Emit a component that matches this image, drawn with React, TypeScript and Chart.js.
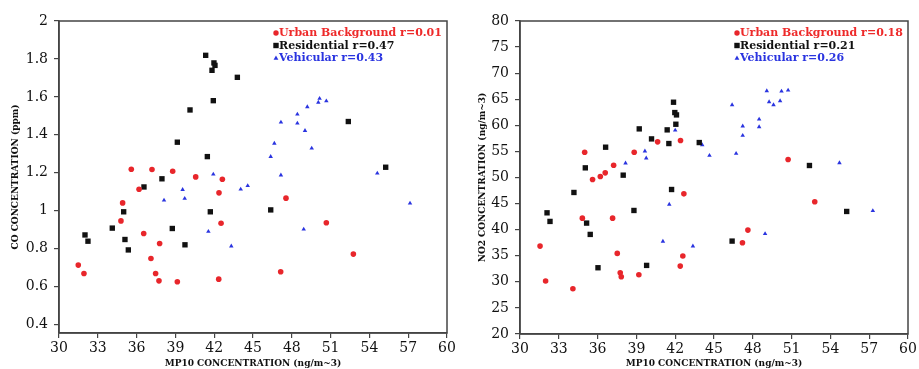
import React, { useEffect, useRef } from "react";
import { Chart, registerables } from "chart.js";

Chart.register(...registerables);

// ---------- tick labels ----------
const xTicks = [30, 33, 36, 39, 42, 45, 48, 51, 54, 57, 60];
const coTicks = [0.4, 0.6, 0.8, 1, 1.2, 1.4, 1.6, 1.8, 2];
const no2Ticks = [20, 25, 30, 35, 40, 45, 50, 55, 60, 65, 70, 75, 80];

// ---------- series names / legend ----------
const seriesNames = ["Urban Background", "Residential", "Vehicular"];
const coR = ["r=0.01", "r=0.47", "r=0.43"];
const no2R = ["r=0.18", "r=0.21", "r=0.26"];

const xTitle = "MP10 CONCENTRATION (ng/m~3)";
const coTitle = "CO CONCENTRATION (ppm)";
const no2Title = "NO2 CONCENTRATION (ng/m~3)";

// ---------- CO panel data ----------
const coUrbanX = [31.49, 31.93, 34.79, 34.92, 35.59, 36.19, 36.55, 37.19, 37.11, 37.47, 37.78, 37.73, 38.79, 39.15, 40.57, 42.37, 42.63, 42.53, 42.35, 47.55, 47.14, 50.67, 52.76];
const coUrbanY = [0.713, 0.669, 0.946, 1.041, 1.218, 1.113, 0.88, 1.217, 0.748, 0.669, 0.827, 0.63, 1.208, 0.625, 1.178, 1.094, 1.166, 0.934, 0.639, 1.066, 0.678, 0.936, 0.771];

const coResX = [32.01, 32.24, 34.12, 35.0, 35.1, 35.36, 36.57, 37.96, 38.76, 39.15, 39.74, 40.13, 41.34, 41.47, 41.7, 41.83, 41.93, 41.98, 42.06, 43.79, 46.37, 52.37, 55.26];
const coResY = [0.872, 0.839, 0.908, 0.994, 0.848, 0.793, 1.125, 1.168, 0.906, 1.361, 0.82, 1.531, 1.819, 1.285, 0.994, 1.74, 1.58, 1.779, 1.766, 1.703, 1.004, 1.47, 1.229];

const coVehX = [38.12, 39.56, 39.72, 41.55, 41.93, 43.32, 44.05, 44.59, 46.37, 46.65, 47.16, 47.16, 48.43, 48.43, 48.92, 49.02, 49.2, 49.54, 50.05, 50.15, 50.67, 54.61, 57.14];
const coVehY = [1.055, 1.111, 1.064, 0.89, 1.192, 0.813, 1.113, 1.131, 1.285, 1.355, 1.187, 1.466, 1.508, 1.461, 0.902, 1.422, 1.547, 1.329, 1.571, 1.591, 1.578, 1.197, 1.039];

// ---------- NO2 panel data ----------
const no2UrbanX = [31.55, 31.98, 34.09, 34.82, 35.0, 35.61, 36.21, 36.59, 37.16, 37.24, 37.52, 37.75, 37.83, 38.83, 39.19, 40.64, 42.39, 42.41, 42.59, 42.67, 47.2, 47.62, 50.73, 52.79];
const no2UrbanY = [36.85, 30.15, 28.68, 42.21, 54.85, 49.62, 50.19, 50.89, 42.21, 52.36, 35.45, 31.75, 30.98, 54.85, 31.36, 56.83, 33.02, 57.09, 34.94, 46.87, 37.49, 39.92, 53.45, 45.34];

const no2ResX = [32.09, 32.32, 34.17, 35.05, 35.15, 35.43, 36.03, 36.62, 37.98, 38.81, 39.22, 39.79, 40.17, 41.38, 41.51, 41.72, 41.87, 41.97, 42.1, 42.05, 43.86, 46.4, 52.38, 55.26];
const no2ResY = [43.23, 41.58, 47.13, 51.85, 41.26, 39.09, 32.7, 55.81, 50.45, 43.68, 59.32, 33.15, 57.4, 59.13, 56.51, 47.7, 64.43, 62.45, 62.0, 60.21, 56.7, 37.81, 52.3, 43.49];

const no2VehX = [38.16, 39.66, 39.76, 41.05, 41.54, 42.0, 43.37, 44.09, 44.65, 46.4, 46.71, 47.22, 47.22, 48.49, 48.49, 48.95, 49.08, 49.26, 49.6, 50.11, 50.22, 50.73, 54.7, 57.28];
const no2VehY = [52.75, 55.04, 53.7, 37.75, 44.83, 59.06, 36.85, 56.26, 54.21, 63.92, 54.6, 59.83, 58.04, 61.17, 59.7, 39.21, 66.6, 64.49, 63.92, 64.68, 66.53, 66.72, 52.81, 43.62];

// ---------- styles ----------
const RED = "#e8262b";
const BLACK = "#111111";
const BLUE = "#2a34e0";
const AXIS = "#444444";
const SERIF = "'DejaVu Serif', serif";

const styles = [
  { color: RED, textColor: "#ee2a2a", pointStyle: "circle", radius: 2.8 },
  { color: BLACK, textColor: "#111111", pointStyle: "rect", radius: 3.8 },
  { color: BLUE, textColor: "#2a34e0", pointStyle: "triangle", radius: 2.6 },
];

const zip = (xs: number[], ys: number[]) => xs.map((x, i) => ({ x, y: ys[i] }));

const framePlugin = {
  id: "frame",
  afterDraw(chart: any) {
    const { ctx, chartArea } = chart;
    const { left, top, right, bottom } = chartArea;
    ctx.save();
    ctx.strokeStyle = AXIS;
    ctx.lineWidth = 1.5;
    ctx.strokeRect(left, top, right - left, bottom - top);
    ctx.restore();
  },
};

const insetLegendPlugin = {
  id: "insetLegend",
  afterDraw(chart: any, _args: any, opts: any) {
    const { ctx, chartArea } = chart;
    const items = opts.items || [];
    const mx = chartArea.left + opts.offsetX;
    ctx.save();
    ctx.font = `bold ${opts.fontSize}px ${SERIF}`;
    ctx.textBaseline = "middle";
    ctx.textAlign = "left";
    items.forEach((it: any, i: number) => {
      const y = opts.firstY + i * opts.rowGap;
      ctx.fillStyle = it.color;
      ctx.beginPath();
      if (it.style === "circle") {
        ctx.arc(mx, y, 2.7, 0, Math.PI * 2);
        ctx.fill();
      } else if (it.style === "rect") {
        ctx.fillRect(mx - 2.7, y - 2.7, 5.4, 5.4);
      } else {
        ctx.moveTo(mx, y - 2.6);
        ctx.lineTo(mx + 2.4, y + 1.8);
        ctx.lineTo(mx - 2.4, y + 1.8);
        ctx.closePath();
        ctx.fill();
      }
      ctx.fillStyle = it.textColor;
      ctx.fillText(it.text, mx + 3, y + 0.5);
    });
    ctx.restore();
  },
};

type PanelProps = {
  left: number;
  width: number;
  series: { x: number[]; y: number[] }[];
  rLabels: string[];
  yMin: number;
  yMax: number;
  yTicks: number[];
  yTitle: string;
  yAxisWidth: number;
  xAxisHeight: number;
  padRight: number;
  yTitlePad: number;
};

function Panel(p: PanelProps) {
  const ref = useRef<HTMLCanvasElement>(null);
  useEffect(() => {
    const datasets = p.series.map((s, i) => ({
      label: seriesNames[i],
      data: zip(s.x, s.y),
      pointStyle: styles[i].pointStyle as any,
      pointRadius: styles[i].radius,
      backgroundColor: styles[i].color,
      borderColor: styles[i].color,
      borderWidth: 0,
      showLine: false,
    }));
    const chart = new Chart(ref.current as HTMLCanvasElement, {
      type: "scatter",
      data: { datasets },
      plugins: [framePlugin, insetLegendPlugin],
      options: {
        responsive: false,
        animation: false,
        layout: { padding: { top: 21, right: p.padRight, left: 0, bottom: 0 } },
        plugins: {
          legend: { display: false },
          tooltip: { enabled: false },
          insetLegend: {
            items: seriesNames.map((n, i) => ({
              text: `${n} ${p.rLabels[i]}`,
              color: styles[i].color,
              textColor: styles[i].textColor,
              style: styles[i].pointStyle,
            })),
            offsetX: 217,
            firstY: 33,
            rowGap: 12.5,
            fontSize: 11,
          },
        } as any,
        scales: {
          x: {
            type: "linear",
            min: 30,
            max: 60,
            afterBuildTicks: (s: any) => {
              s.ticks = xTicks.map((v) => ({ value: v }));
            },
            afterFit: (s: any) => {
              s.height = p.xAxisHeight;
            },
            ticks: {
              font: { family: SERIF, size: 14 },
              color: "#111",
              padding: 2,
              maxRotation: 0,
              autoSkip: false,
              callback: (v: any) => `${v}`,
            },
            grid: { drawOnChartArea: false, drawTicks: true, tickLength: 5, color: AXIS, lineWidth: 1.2 },
            border: { display: true, color: AXIS, width: 1.5 },
            title: {
              display: true,
              text: xTitle,
              font: { family: SERIF, size: 9, weight: "bold" },
              color: "#111",
              padding: { top: 0, bottom: 0 },
            },
          },
          y: {
            type: "linear",
            min: p.yMin,
            max: p.yMax,
            afterBuildTicks: (s: any) => {
              s.ticks = p.yTicks.map((v) => ({ value: v }));
            },
            afterFit: (s: any) => {
              s.width = p.yAxisWidth;
            },
            ticks: {
              font: { family: SERIF, size: 14 },
              color: "#111",
              padding: 6,
              autoSkip: false,
              callback: (v: any) => `${v}`,
            },
            grid: { drawOnChartArea: false, drawTicks: true, tickLength: 5, color: AXIS, lineWidth: 1.2 },
            border: { display: true, color: AXIS, width: 1.5 },
            title: {
              display: true,
              text: p.yTitle,
              font: { family: SERIF, size: 9, weight: "bold" },
              color: "#111",
              padding: { top: p.yTitlePad, bottom: 0 },
            },
          },
        } as any,
      },
    });
    return () => chart.destroy();
  }, []);
  return (
    <div style={{ position: "absolute", left: p.left, top: 0, width: p.width, height: 369 }}>
      <canvas ref={ref} width={p.width} height={369} style={{ display: "block", width: p.width, height: 369 }} />
    </div>
  );
}

export default function App() {
  return (
    <div style={{ position: "fixed", left: 0, top: 0, width: 919, height: 369, background: "#fff", overflow: "hidden" }}>
      <Panel
        left={0}
        width={460}
        series={[
          { x: coUrbanX, y: coUrbanY },
          { x: coResX, y: coResY },
          { x: coVehX, y: coVehY },
        ]}
        rLabels={coR}
        yMin={0.355}
        yMax={2}
        yTicks={coTicks}
        yTitle={coTitle}
        yAxisWidth={59}
        xAxisHeight={36}
        padRight={13}
        yTitlePad={10}
      />
      <Panel
        left={460}
        width={459}
        series={[
          { x: no2UrbanX, y: no2UrbanY },
          { x: no2ResX, y: no2ResY },
          { x: no2VehX, y: no2VehY },
        ]}
        rLabels={no2R}
        yMin={20}
        yMax={80}
        yTicks={no2Ticks}
        yTitle={no2Title}
        yAxisWidth={60}
        xAxisHeight={35}
        padRight={11}
        yTitlePad={17}
      />
    </div>
  );
}
